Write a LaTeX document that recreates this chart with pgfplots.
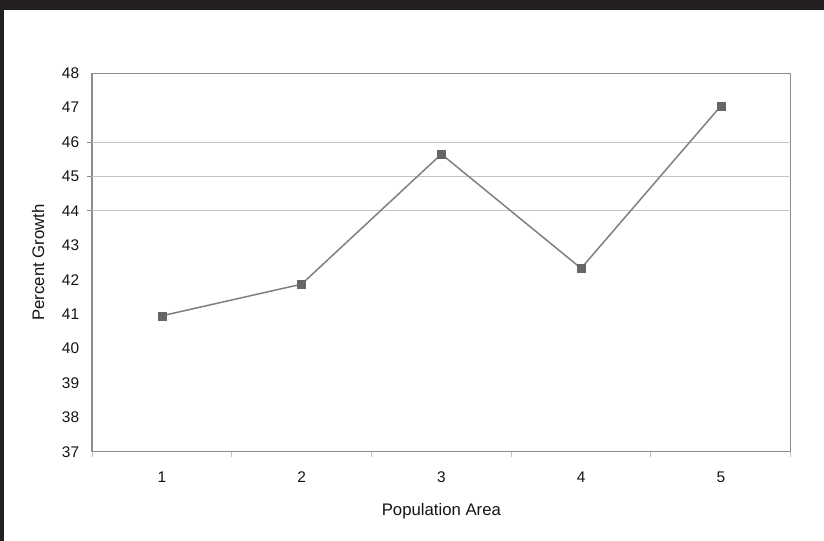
\documentclass[border=0pt]{standalone}
\usepackage{pgfplots}
\pgfplotsset{compat=1.18}
\usepackage{fontspec}
\setmainfont{Liberation Sans}
\definecolor{bandcol}{HTML}{231F20}
\definecolor{framecol}{HTML}{8C8C8C}
\definecolor{gridcol}{HTML}{C4C4C4}
\definecolor{linecol}{HTML}{808080}
\definecolor{markcol}{HTML}{666666}
\begin{document}
\begin{tikzpicture}[x=1bp,y=1bp]
% page background and dark frame
\useasboundingbox (0,0) rectangle (824,541);
\fill[white] (0,0) rectangle (824,541);
\fill[bandcol] (0,531) rectangle (824,541);
\fill[bandcol] (0,0) rectangle (3.5,541);
\begin{axis}[
  at={(92bp,89.3bp)}, anchor=south west,
  scale only axis,
  width=698.7bp, height=378.4bp,
  xmin=0.5, xmax=5.5, ymin=37, ymax=48,
  xtick={1,2,3,4,5},
  minor xtick={0.5,1.5,2.5,3.5,4.5,5.5},
  ytick={37,38,...,48},
  extra y ticks={44,45,46},
  extra y tick labels={},
  extra y tick style={grid=major, major grid style={gridcol, line width=1bp},
    major tick length=5bp, tick style={framecol, line width=1bp}},
  major tick length=0pt,
  minor tick length=5bp,
  tick align=outside,
  xtick pos=bottom, ytick pos=left,
  tick style={framecol, line width=1bp},
  minor tick style={gridcol, line width=1bp},
  axis line style={framecol, line width=1.5bp},
  /pgf/number format/assume math mode=true,
  tick label style={font=\fontsize{15.5}{17}\selectfont, text=black!92, inner sep=0pt},
  yticklabel style={anchor=east, xshift=-12.7bp},
  xticklabel style={anchor=north, yshift=-20bp},
  label style={font=\fontsize{16.8}{19}\selectfont, text=black!92},
  xlabel={Population Area},
  ylabel={Percent Growth},
  xlabel style={at={(axis description cs:0.5,-0.158)}, anchor=center},
  ylabel style={at={(axis description cs:-0.077,0.5)}, anchor=center, rotate=0},
  clip=false,
]
\addplot[linecol, line width=1.5bp, mark=square*, mark size=4bp,
  mark options={fill=markcol, draw=markcol, line width=0.5bp}]
  coordinates {(1,40.95) (2,41.87) (3,45.65) (4,42.33) (5,47.05)};
\end{axis}
\end{tikzpicture}
\end{document}
